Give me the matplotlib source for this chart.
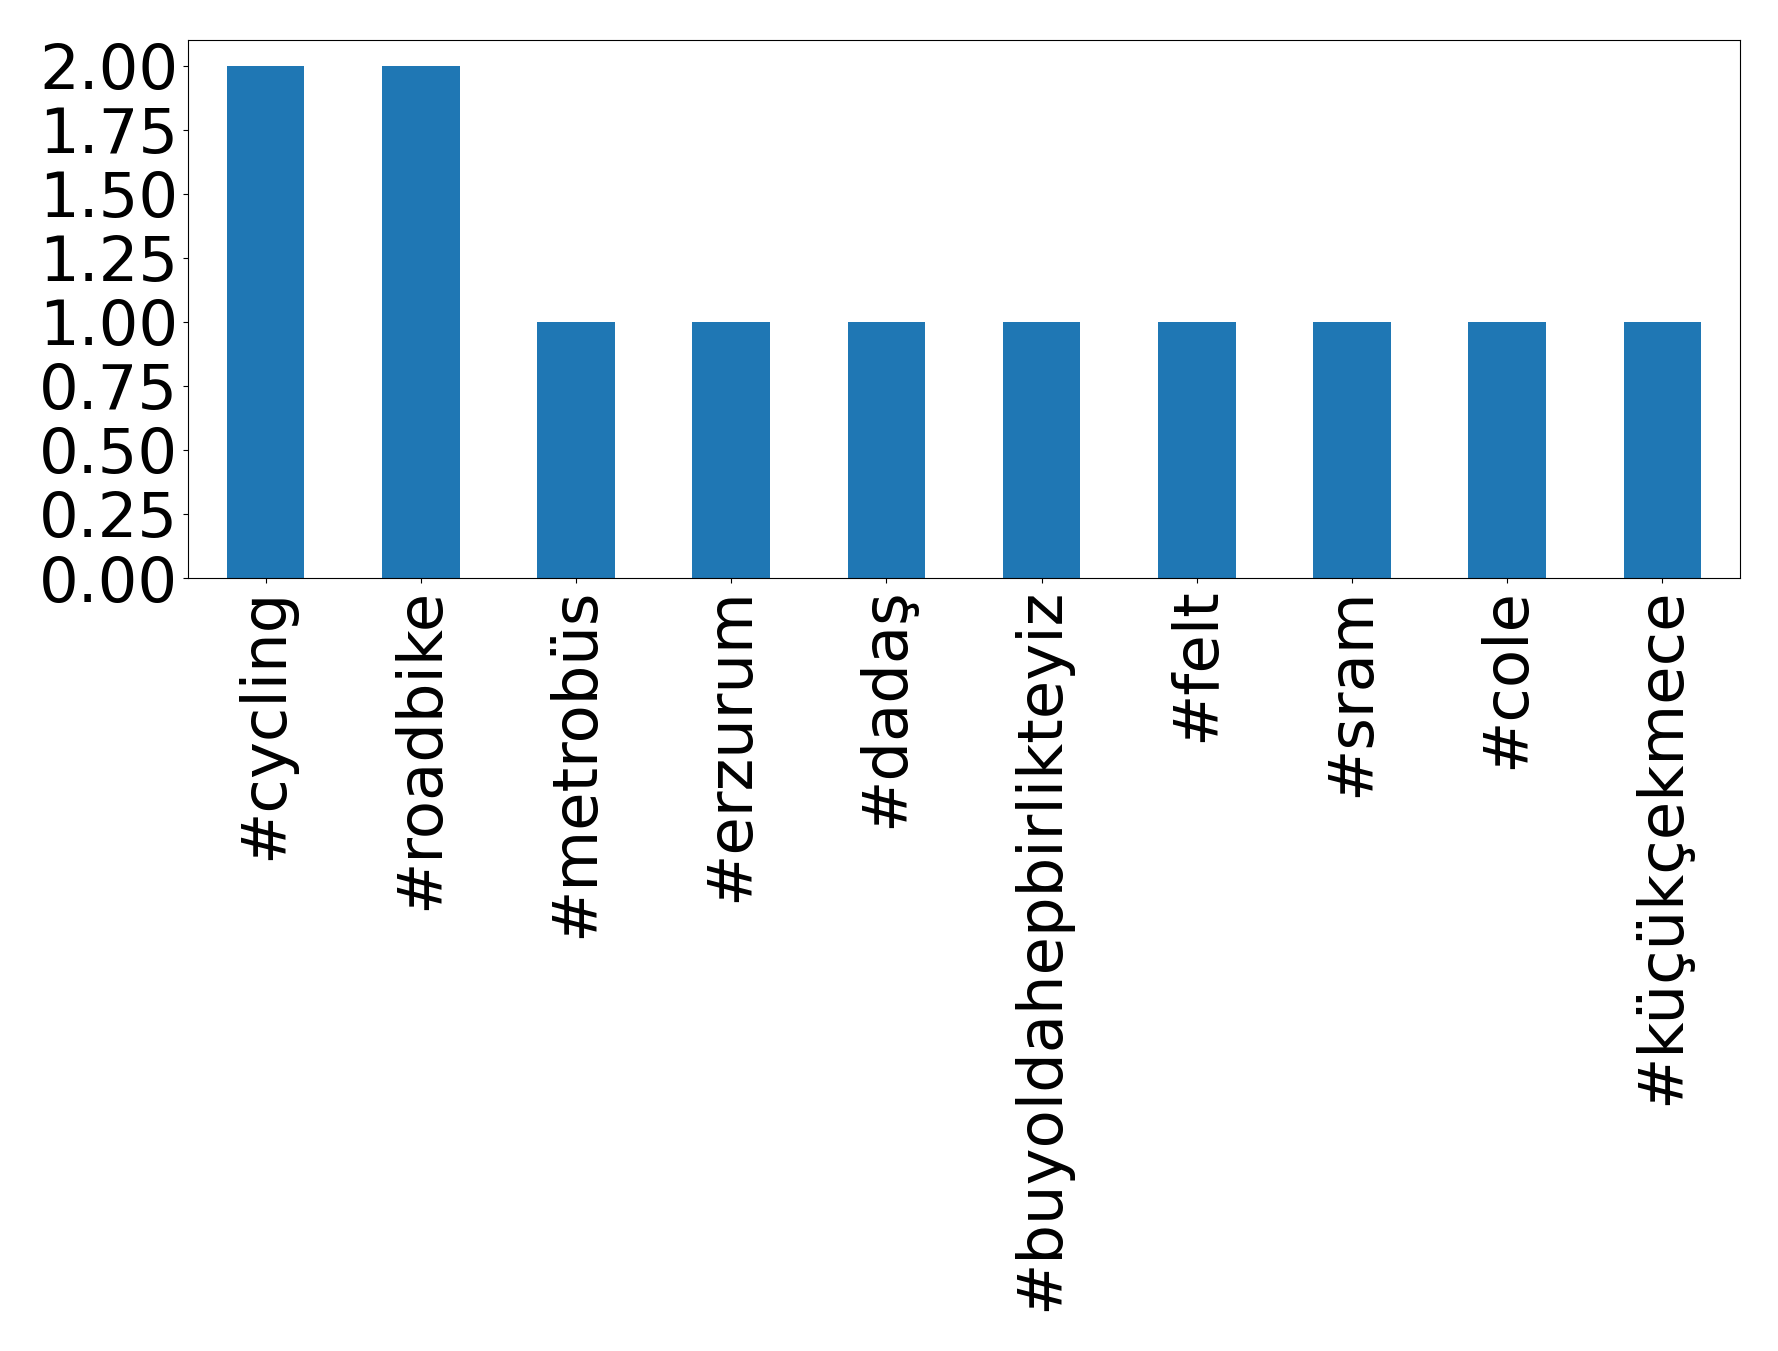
import numpy as np
import matplotlib.pyplot as plt

# hashtag counts
tags = ['#cycling', '#roadbike', '#metrobüs', '#erzurum', '#dadaş',
        '#buyoldahepbirlikteyiz', '#felt', '#sram', '#cole', '#küçükçekmece']
counts = [2, 2, 1, 1, 1, 1, 1, 1, 1, 1]

fig = plt.figure(figsize=(17.78, 13.51), dpi=100)
ax = fig.add_axes([188/1778, 1 - 578/1351, (1740-188)/1778, (578-40)/1351])

x = np.arange(len(tags))
ax.bar(x, counts, width=0.5, color='#1f77b4')
ax.set_xlim(-0.5, len(tags) - 0.5)
ax.set_xticks(x)
ax.set_xticklabels(tags, rotation=90, fontsize=45)
ax.set_yticks(np.arange(0, 2.01, 0.25))
ax.set_yticklabels(['%.2f' % v for v in np.arange(0, 2.01, 0.25)], fontsize=45)
ax.set_ylim(0, 2.1)

plt.savefig('out.png', dpi=100)
